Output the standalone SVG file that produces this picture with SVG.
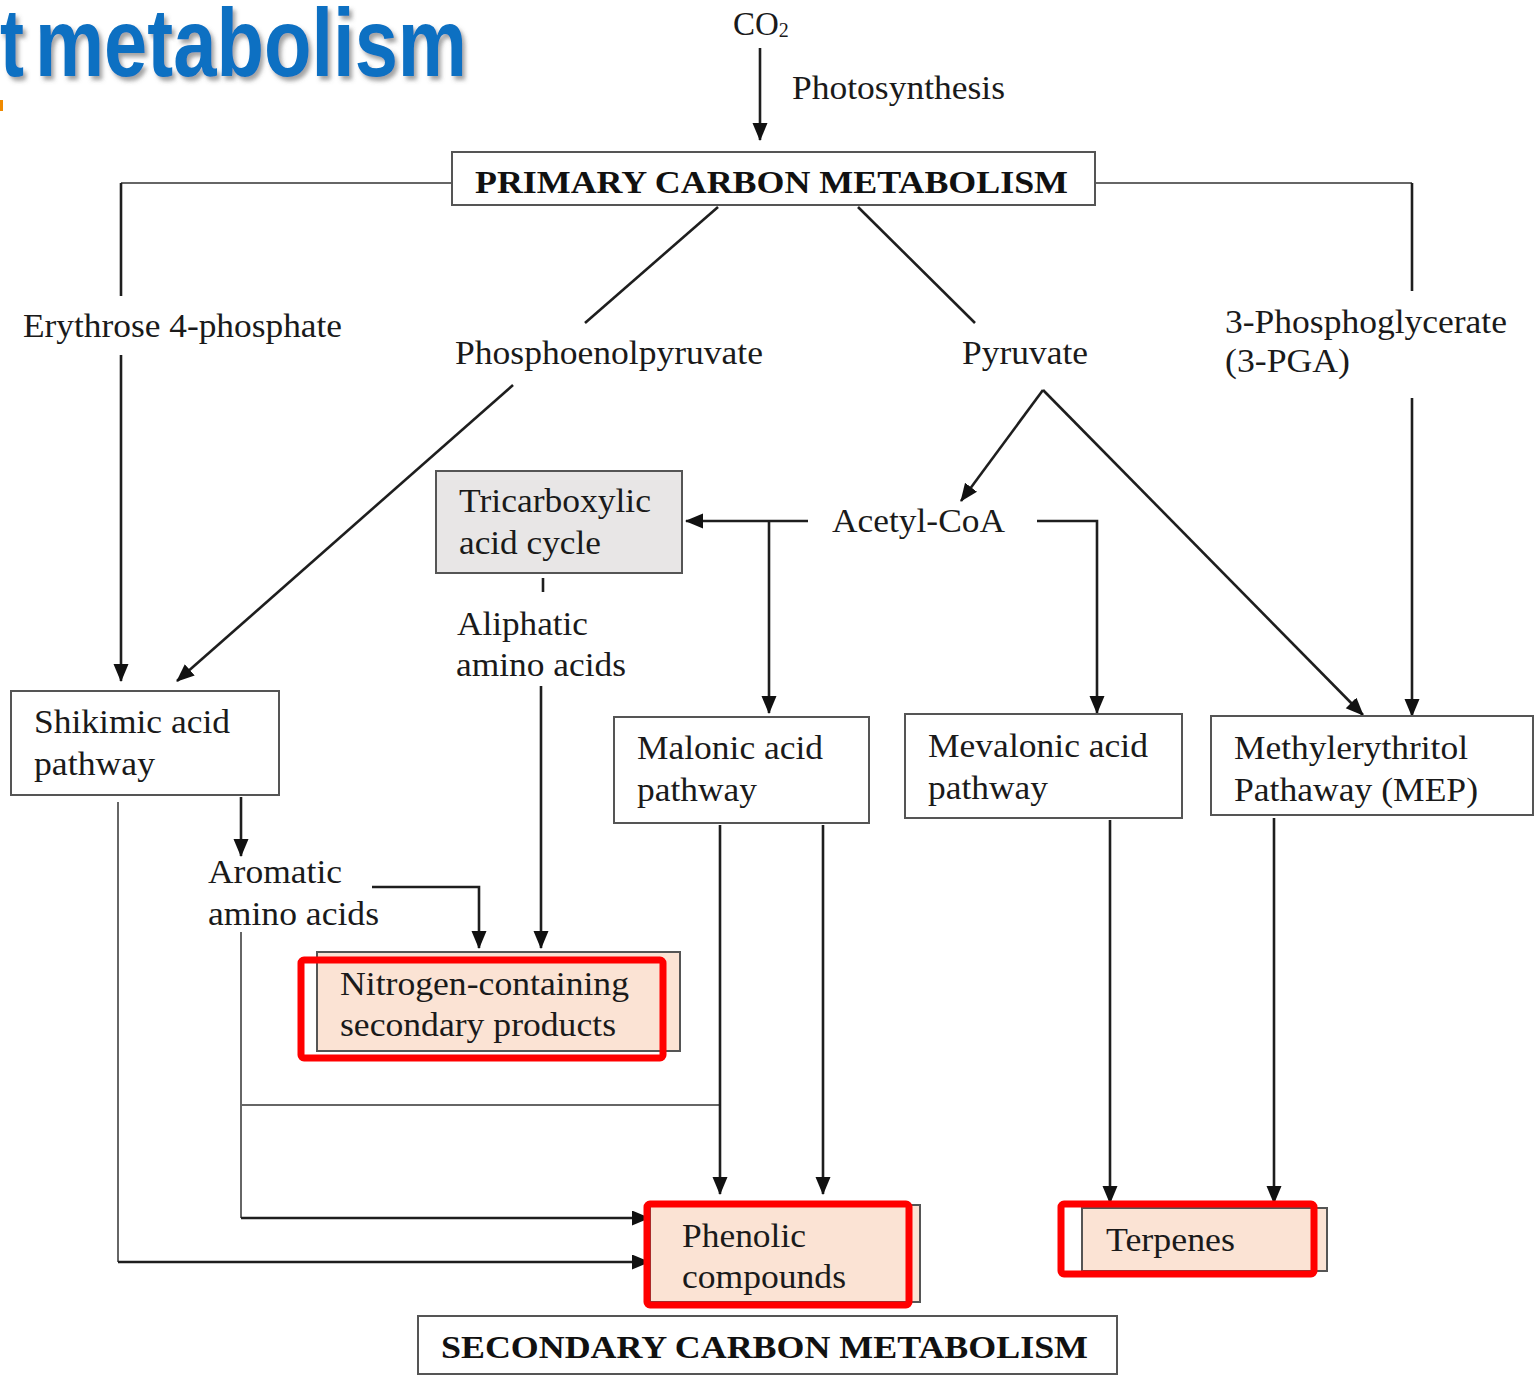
<svg xmlns="http://www.w3.org/2000/svg" width="1538" height="1376" viewBox="0 0 1538 1376">
<style>
.t{font-family:"Liberation Serif","Times New Roman",serif;font-size:33px;fill:#1a1a1a}
.b{font-family:"Liberation Serif","Times New Roman",serif;font-size:32px;font-weight:bold;fill:#111}
.box{fill:#fff;stroke:#555;stroke-width:2}
.gray{fill:#e8e6e6;stroke:#555;stroke-width:2}
.peach{fill:#fbe3d4;stroke:#555;stroke-width:2}
.hl{fill:none;stroke:#ff0000;stroke-width:7}
.c{fill:none;stroke:#1e1e1e;stroke-width:2.6}
.c2{fill:none;stroke:#666;stroke-width:2}
.ttl{font-family:"Liberation Sans",Arial,sans-serif;font-weight:bold;font-size:97px;fill:#0A6FC2}
</style>
<defs>
<marker id="ah" markerUnits="userSpaceOnUse" markerWidth="19" markerHeight="16" refX="17" refY="7.5" orient="auto">
<path d="M0,0 L18,7.5 L0,15 z" fill="#111"/>
</marker>
<filter id="sh" x="-5%" y="-5%" width="115%" height="130%">
<feDropShadow dx="3" dy="4" stdDeviation="2" flood-color="#555" flood-opacity="0.55"/>
</filter>
</defs>

<g id="title" filter="url(#sh)">
<text class="ttl" x="0" y="76" textLength="24" lengthAdjust="spacingAndGlyphs">t</text>
<text class="ttl" x="35" y="76" textLength="432" lengthAdjust="spacingAndGlyphs">metabolism</text>
</g>
<rect x="0" y="100" width="3" height="11" fill="#f08a00"/>

<g id="connectors">
<line class="c" x1="760" y1="48" x2="760" y2="140" marker-end="url(#ah)"/>
<polyline class="c2" points="452,183 121,183"/>
<line class="c" x1="121" y1="183" x2="121" y2="296"/>
<line class="c" x1="121" y1="355" x2="121" y2="681" marker-end="url(#ah)"/>
<polyline class="c2" points="1095,183 1412,183"/>
<line class="c" x1="1412" y1="183" x2="1412" y2="291"/>
<line class="c" x1="1412" y1="398" x2="1412" y2="716" marker-end="url(#ah)"/>
<line class="c" x1="718" y1="207" x2="585" y2="323"/>
<line class="c" x1="513" y1="385" x2="177" y2="681" marker-end="url(#ah)"/>
<line class="c" x1="858" y1="207" x2="975" y2="323"/>
<line class="c" x1="1043" y1="390" x2="961" y2="501" marker-end="url(#ah)"/>
<line class="c" x1="1043" y1="390" x2="1363" y2="715" marker-end="url(#ah)"/>
<line class="c" x1="808" y1="521" x2="686" y2="521" marker-end="url(#ah)"/>
<line class="c" x1="769" y1="521" x2="769" y2="713" marker-end="url(#ah)"/>
<polyline class="c" points="1037,521 1097,521 1097,713" marker-end="url(#ah)"/>
<line class="c" x1="543" y1="578" x2="543" y2="592"/>
<line class="c" x1="541" y1="686" x2="541" y2="948" marker-end="url(#ah)"/>
<line class="c" x1="241" y1="797" x2="241" y2="856" marker-end="url(#ah)"/>
<polyline class="c" points="372,887 479,887 479,948" marker-end="url(#ah)"/>
<polyline class="c2" points="241,932 241,1218"/>
<line class="c" x1="241" y1="1218" x2="649" y2="1218" marker-end="url(#ah)"/>
<line class="c2" x1="241" y1="1105" x2="720" y2="1105"/>
<polyline class="c2" points="118,802 118,1262"/>
<line class="c" x1="118" y1="1262" x2="649" y2="1262" marker-end="url(#ah)"/>
<line class="c" x1="720" y1="825" x2="720" y2="1194" marker-end="url(#ah)"/>
<line class="c" x1="823" y1="825" x2="823" y2="1194" marker-end="url(#ah)"/>
<line class="c" x1="1110" y1="820" x2="1110" y2="1203" marker-end="url(#ah)"/>
<line class="c" x1="1274" y1="818" x2="1274" y2="1203" marker-end="url(#ah)"/>
</g>

<g id="co2">
<text class="t" x="733" y="35" font-size="32">CO<tspan font-size="20" dy="2">2</tspan></text>
</g>
<g id="photosynthesis"><text class="t" x="792" y="99" textLength="213" lengthAdjust="spacingAndGlyphs">Photosynthesis</text></g>

<g id="primary">
<rect class="box" x="452" y="152" width="643" height="53"/>
<text class="b" x="475" y="193" textLength="593" lengthAdjust="spacingAndGlyphs">PRIMARY CARBON METABOLISM</text>
</g>

<g id="erythrose"><text class="t" x="23" y="337" textLength="319" lengthAdjust="spacingAndGlyphs">Erythrose 4-phosphate</text></g>
<g id="pep"><text class="t" x="455" y="364" textLength="308" lengthAdjust="spacingAndGlyphs">Phosphoenolpyruvate</text></g>
<g id="pyruvate"><text class="t" x="962" y="364" textLength="126" lengthAdjust="spacingAndGlyphs">Pyruvate</text></g>
<g id="pga">
<text class="t" x="1225" y="333" textLength="282" lengthAdjust="spacingAndGlyphs">3-Phosphoglycerate</text>
<text class="t" x="1225" y="372" textLength="125" lengthAdjust="spacingAndGlyphs">(3-PGA)</text>
</g>

<g id="tca">
<rect class="gray" x="436" y="471" width="246" height="102"/>
<text class="t" x="459" y="512" textLength="192" lengthAdjust="spacingAndGlyphs">Tricarboxylic</text>
<text class="t" x="459" y="554" textLength="142" lengthAdjust="spacingAndGlyphs">acid cycle</text>
</g>
<g id="acetyl"><text class="t" x="832" y="532" textLength="173" lengthAdjust="spacingAndGlyphs">Acetyl-CoA</text></g>
<g id="aliphatic">
<text class="t" x="457" y="635" textLength="131" lengthAdjust="spacingAndGlyphs">Aliphatic</text>
<text class="t" x="456" y="676" textLength="170" lengthAdjust="spacingAndGlyphs">amino acids</text>
</g>

<g id="shikimic">
<rect class="box" x="11" y="691" width="268" height="104"/>
<text class="t" x="34" y="733" textLength="196" lengthAdjust="spacingAndGlyphs">Shikimic acid</text>
<text class="t" x="34" y="775" textLength="121" lengthAdjust="spacingAndGlyphs">pathway</text>
</g>
<g id="aromatic">
<text class="t" x="208" y="883" textLength="134" lengthAdjust="spacingAndGlyphs">Aromatic</text>
<text class="t" x="208" y="925" textLength="171" lengthAdjust="spacingAndGlyphs">amino acids</text>
</g>

<g id="malonic">
<rect class="box" x="614" y="717" width="255" height="106"/>
<text class="t" x="637" y="759" textLength="186" lengthAdjust="spacingAndGlyphs">Malonic acid</text>
<text class="t" x="637" y="801" textLength="120" lengthAdjust="spacingAndGlyphs">pathway</text>
</g>
<g id="mevalonic">
<rect class="box" x="905" y="714" width="277" height="104"/>
<text class="t" x="928" y="757" textLength="220" lengthAdjust="spacingAndGlyphs">Mevalonic acid</text>
<text class="t" x="928" y="799" textLength="120" lengthAdjust="spacingAndGlyphs">pathway</text>
</g>
<g id="mep">
<rect class="box" x="1211" y="716" width="322" height="99"/>
<text class="t" x="1234" y="759" textLength="234" lengthAdjust="spacingAndGlyphs">Methylerythritol</text>
<text class="t" x="1234" y="801" textLength="244" lengthAdjust="spacingAndGlyphs">Pathaway (MEP)</text>
</g>

<g id="nitrogen">
<rect class="peach" x="317" y="952" width="363" height="99"/>
<rect class="hl" x="301" y="960" width="362" height="98" rx="3"/>
<text class="t" x="340" y="995" textLength="289" lengthAdjust="spacingAndGlyphs">Nitrogen-containing</text>
<text class="t" x="340" y="1036" textLength="276" lengthAdjust="spacingAndGlyphs">secondary products</text>
</g>
<g id="phenolic">
<rect class="peach" x="650" y="1205" width="270" height="97"/>
<rect class="hl" x="647" y="1204" width="262" height="101" rx="3"/>
<text class="t" x="682" y="1247" textLength="124" lengthAdjust="spacingAndGlyphs">Phenolic</text>
<text class="t" x="682" y="1288" textLength="164" lengthAdjust="spacingAndGlyphs">compounds</text>
</g>
<g id="terpenes">
<rect class="peach" x="1082" y="1208" width="245" height="63"/>
<rect class="hl" x="1061" y="1204" width="253" height="70" rx="3"/>
<text class="t" x="1106" y="1251" textLength="129" lengthAdjust="spacingAndGlyphs">Terpenes</text>
</g>

<g id="secondary">
<rect class="box" x="418" y="1316" width="699" height="58"/>
<text class="b" x="441" y="1358" textLength="647" lengthAdjust="spacingAndGlyphs">SECONDARY CARBON METABOLISM</text>
</g>
</svg>
